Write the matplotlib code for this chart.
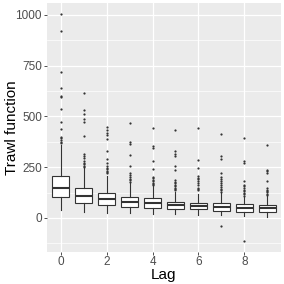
import matplotlib
matplotlib.use("Agg")
import matplotlib.pyplot as plt

# Box summary per lag
lags = [0, 1, 2, 3, 4, 5, 6, 7, 8, 9]
q1 = [101, 75, 62, 55, 47, 44, 43, 36, 31, 28]
med = [148, 108, 92, 80, 72, 64, 59, 55, 48, 48]
q3 = [206, 146, 121, 104, 96, 80, 75, 72, 67, 64]
whislo = [39, 31, 26, 23, 20, 20, 15, 15, 10, 6]
whishi = [358, 244, 205, 172, 158, 130, 120, 124, 105, 110]

# Outliers per lag
outliers = [
    [1003, 921, 717, 638, 601, 594, 537, 472, 436, 400, 392, 384, 375, 368],
    [614, 533, 510, 488, 472, 403, 314, 305, 297, 281, 273, 265, 258, 252],
    [447, 431, 420, 407, 390, 330, 292, 271, 255, 248, 240, 232, 225, 219],
    [469, 374, 366, 309, 255, 219, 210, 200, 192, 185, 178],
    [444, 353, 345, 279, 243, 202, 195, 188, 180, 172, 166, 162],
    [431, 328, 317, 305, 255, 235, 186, 178, 170, 162, 155, 148, 142, 137],
    [444, 284, 248, 206, 198, 190, 180, 170, 160, 150, 142, 137],
    [415, 305, 289, 222, 200, 192, 182, 172, 162, 152, 145, 137, 129, -41],
    [394, 279, 271, 181, 162, 155, 148, 140, 132, 124, 116, 108, -111],
    [361, 238, 230, 222, 183, 146, 140, 134, 127, 120, 113],
]

x_ticks = [0, 2, 4, 6, 8]
y_ticks = [0, 250, 500, 750, 1000]
y_minor = [-125, 125, 375, 625, 875]

plt.rcParams["font.family"] = ["Liberation Sans", "DejaVu Sans"]

fig = plt.figure(figsize=(2.84, 2.84), dpi=100)
ax = fig.add_axes([0.1655, 0.113, 0.8239, 0.877])
ax.set_facecolor("#EBEBEB")

stats = []
for i in range(len(lags)):
    stats.append({
        "q1": q1[i], "med": med[i], "q3": q3[i],
        "whislo": whislo[i], "whishi": whishi[i],
        "fliers": outliers[i],
    })

edge = "#333333"
ax.bxp(
    stats, positions=lags, widths=0.75, patch_artist=True,
    showcaps=False, manage_ticks=False, zorder=3,
    boxprops=dict(facecolor="white", edgecolor=edge, linewidth=0.8),
    medianprops=dict(color=edge, linewidth=1.5),
    whiskerprops=dict(color=edge, linewidth=0.8),
    flierprops=dict(marker="o", markersize=1.6, markerfacecolor=edge,
                    markeredgecolor=edge, markeredgewidth=0),
)

# grid
for y in y_minor:
    ax.axhline(y, color="white", linewidth=0.5, zorder=1)
for y in y_ticks:
    ax.axhline(y, color="white", linewidth=0.9, zorder=1)
for x in x_ticks:
    ax.axvline(x, color="white", linewidth=0.9, zorder=1)

ax.set_xlim(-0.6, 9.6)
ax.set_ylim(-167, 1059)
ax.set_xticks(x_ticks)
ax.set_yticks(y_ticks)
ax.set_xticklabels([str(v) for v in x_ticks])
ax.set_yticklabels([str(v) for v in y_ticks])

for s in ax.spines.values():
    s.set_visible(False)
ax.tick_params(axis="both", length=2.5, width=0.6, color=edge,
               labelsize=8.5, labelcolor="#4D4D4D", pad=1.2)
ax.tick_params(axis="x", pad=0.6)

# axis titles placed by hand to keep them inside the small canvas
fig.text(0.577, 0.016, "Lag", fontsize=11, ha="center", va="baseline")
fig.text(0.042, 0.551, "Trawl function", fontsize=11, rotation=90,
         ha="center", va="center")

fig.savefig("out.png", dpi=100)
